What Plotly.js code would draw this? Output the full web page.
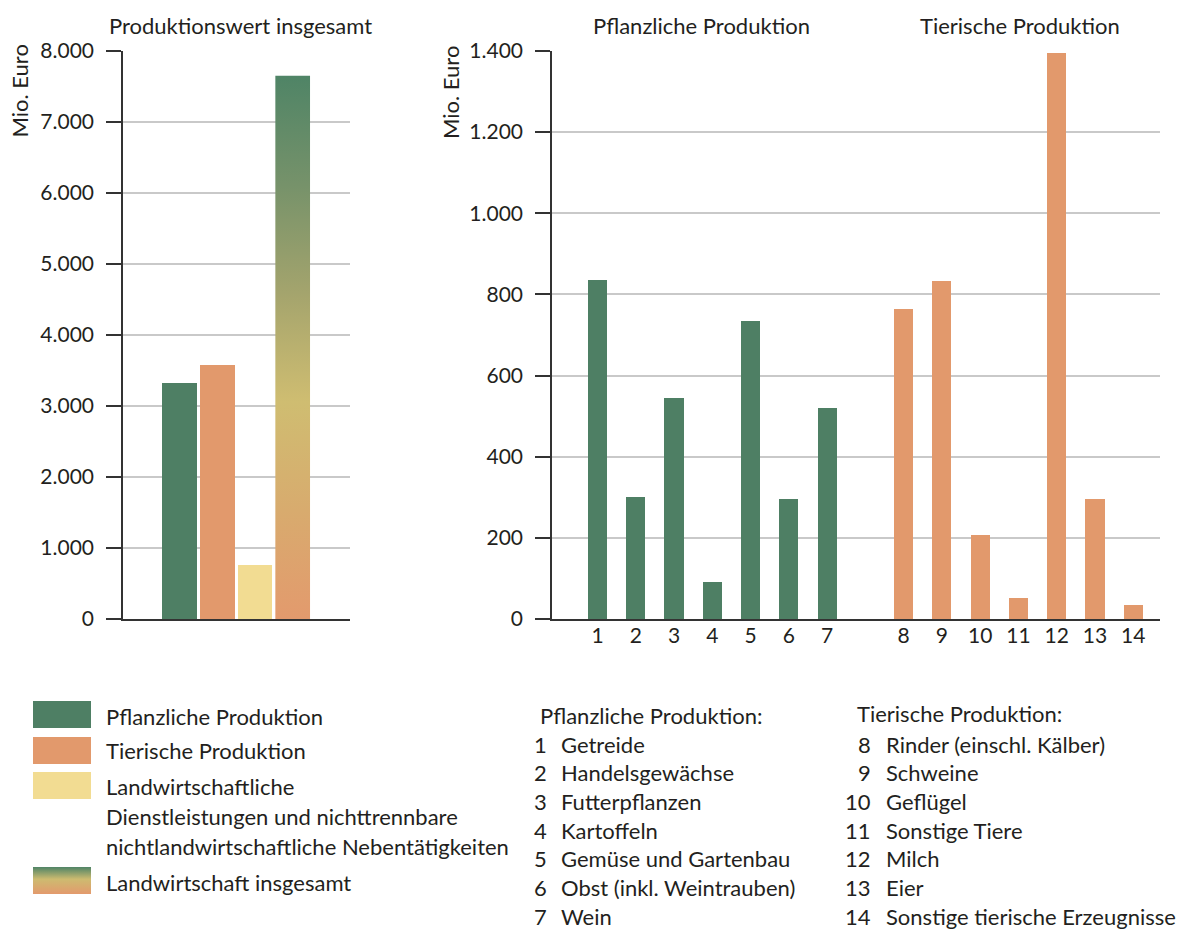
<!DOCTYPE html>
<html>
<head>
<meta charset="utf-8">
<script src="https://cdn.plot.ly/plotly-3.0.1.min.js"></script>
<style>
  html, body { margin: 0; padding: 0; background: #fff; }
  #chart { width: 1178px; height: 929px; }
</style>
</head>
<body>
<div id="chart"></div>
<script>
// ---------------- DATA ----------------
const totalCategories = [
  'Pflanzliche Produktion',
  'Tierische Produktion',
  'Landwirtschaftliche Dienstleistungen und nichttrennbare nichtlandwirtschaftliche Nebentätigkeiten',
  'Landwirtschaft insgesamt'
];
const totalValues = [3320, 3580, 760, 7650];

const plantLabels = ['1', '2', '3', '4', '5', '6', '7'];
const plantNames = ['Getreide', 'Handelsgewächse', 'Futterpflanzen', 'Kartoffeln',
  'Gemüse und Gartenbau', 'Obst (inkl. Weintrauben)', 'Wein'];
const plantValues = [835, 300, 545, 90, 735, 295, 520];

const animalLabels = ['8', '9', '10', '11', '12', '13', '14'];
const animalNames = ['Rinder (einschl. Kälber)', 'Schweine', 'Geflügel', 'Sonstige Tiere',
  'Milch', 'Eier', 'Sonstige tierische Erzeugnisse'];
const animalValues = [765, 832, 207, 52, 1395, 296, 35];

const leftTicks = [0, 1000, 2000, 3000, 4000, 5000, 6000, 7000, 8000];
const rightTicks = [0, 200, 400, 600, 800, 1000, 1200, 1400];

const leftTitle = 'Produktionswert insgesamt';
const plantTitle = 'Pflanzliche Produktion';
const animalTitle = 'Tierische Produktion';
const yTitle = 'Mio. Euro';

// ---------------- STYLE ----------------
const W = 1178, H = 929;
const GREEN = '#4e7f64', ORANGE = '#e2996c', YELLOW = '#f2dc92';
const FONT = 'Lato, "Open Sans", sans-serif';
const TXT = '#231f20';
const FS = 21;      // tick labels
const FA = 22;      // annotation texts
const px = x => x / W;
const py = y => 1 - y / H;

const fmt = v => v.toString().replace(/\B(?=(\d{3})+(?!\d))/g, '.');

// left bars (first three components)
const barW = 0.92;
const compIdx = totalValues.slice(0, 3).map((_, i) => i);
const leftBars = {
  type: 'bar', x: compIdx, y: totalValues.slice(0, 3),
  width: barW, marker: { color: [GREEN, ORANGE, YELLOW], line: { width: 0 } },
  text: totalCategories.slice(0, 3), textposition: 'none',
  hovertemplate: '%{text}: %{y}<extra></extra>',
  xaxis: 'x', yaxis: 'y', showlegend: false
};
// total bar with vertical gradient
const ti = 3, tv = totalValues[3];
const totalBar = {
  type: 'scatter', mode: 'lines',
  x: [ti - barW / 2, ti - barW / 2, ti + barW / 2, ti + barW / 2, ti - barW / 2],
  y: [0, tv, tv, 0, 0],
  fill: 'toself',
  line: { width: 0, color: 'rgba(0,0,0,0)' },
  fillgradient: {
    type: 'vertical',
    start: 0, stop: tv,
    colorscale: [[0, '#e39a6d'], [0.2, '#d8ab6e'], [0.4, '#cfbd71'], [0.6, '#a4a46d'], [0.8, '#76926a'], [1, '#4f8466']]
  },
  xaxis: 'x', yaxis: 'y', hoverinfo: 'skip', showlegend: false
};

const plantPos = plantLabels.map(Number);
const animalPos = animalLabels.map(l => Number(l) + 1);
const rbW = 0.5;
const plantBars = {
  type: 'bar', x: plantPos, y: plantValues, width: rbW, name: plantTitle,
  text: plantNames, hovertemplate: '%{text}: %{y}<extra></extra>', textposition: 'none',
  marker: { color: GREEN, line: { width: 0 } }, xaxis: 'x2', yaxis: 'y2', showlegend: false
};
const animalBars = {
  type: 'bar', x: animalPos, y: animalValues, width: rbW, name: animalTitle,
  text: animalNames, hovertemplate: '%{text}: %{y}<extra></extra>', textposition: 'none',
  marker: { color: ORANGE, line: { width: 0 } }, xaxis: 'x2', yaxis: 'y2', showlegend: false
};

// gradient swatch image for legend
function gradientURL() {
  const c = document.createElement('canvas');
  c.width = 58; c.height = 27;
  const g = c.getContext('2d');
  const gr = g.createLinearGradient(0, 0, 0, 27);
  gr.addColorStop(0, '#508466');
  gr.addColorStop(0.45, '#cdbb70');
  gr.addColorStop(1, '#e39a6d');
  g.fillStyle = gr; g.fillRect(0, 0, 58, 27);
  return c.toDataURL();
}

const GRID = '#c9c9c9', AX = '#333333';
const yBase = {
  showline: true, linecolor: AX, linewidth: 1.5,
  ticks: 'outside', ticklen: 15, tickcolor: AX, tickwidth: 1.5,
  showgrid: true, gridcolor: GRID, gridwidth: 1.5, zeroline: false,
  tickfont: { family: FONT, size: FS, color: TXT }, ticklabelstandoff: 8,
  fixedrange: true
};

const layout = {
  width: W, height: H,
  margin: { l: 0, r: 0, t: 0, b: 0 },
  paper_bgcolor: '#fff', plot_bgcolor: '#fff',
  bargap: 0, showlegend: false,
  font: { family: FONT, size: FS, color: TXT },
  xaxis: {
    domain: [px(123), px(350)], range: [-1.5, 4.52],
    showline: true, linecolor: AX, linewidth: 2, showticklabels: false,
    ticks: '', showgrid: false, zeroline: false, fixedrange: true
  },
  yaxis: Object.assign({}, yBase, {
    domain: [py(619), py(51)], range: [0, 8000],
    tickvals: leftTicks, ticktext: leftTicks.map(fmt), anchor: 'x'
  }),
  xaxis2: {
    domain: [px(552), px(1160)], range: [-0.19, 15.7],
    showline: true, linecolor: AX, linewidth: 2,
    tickvals: plantPos.concat(animalPos), ticktext: plantLabels.concat(animalLabels),
    ticks: '', showgrid: false, zeroline: false, anchor: 'y2',
    tickfont: { family: FONT, size: FS, color: TXT }, ticklabelstandoff: -3, fixedrange: true
  },
  yaxis2: Object.assign({}, yBase, {
    domain: [py(619), py(51)], range: [0, 1400],
    tickvals: rightTicks, ticktext: rightTicks.map(fmt), anchor: 'x2'
  }),
  shapes: [],
  annotations: [],
  images: []
};

const ann = (text, x, y, xanchor, extra) => Object.assign({
  text: text, x: px(x), y: py(y), xref: 'paper', yref: 'paper',
  xanchor: xanchor || 'left', yanchor: 'middle', showarrow: false, borderpad: 0,
  font: { family: FONT, size: FA, color: TXT }
}, extra || {});

// panel titles
layout.annotations.push(ann(leftTitle, 240, 25, 'center'));
layout.annotations.push(ann(plantTitle, 701, 25, 'center'));
layout.annotations.push(ann(animalTitle, 1020, 25, 'center'));
// y titles
layout.annotations.push(ann(yTitle, 19.5, 91, 'center', { textangle: -90 }));
layout.annotations.push(ann(yTitle, 450, 93, 'center', { textangle: -90 }));

// legend (left block)
const sw = [[GREEN, 701], [ORANGE, 737], [YELLOW, 772]];
sw.forEach(([c, y]) => layout.shapes.push({
  type: 'rect', xref: 'paper', yref: 'paper',
  x0: px(33), x1: px(91), y0: py(y + 27), y1: py(y),
  fillcolor: c, line: { width: 0 }
}));
layout.images.push({
  source: gradientURL(), xref: 'paper', yref: 'paper',
  x: px(33), y: py(867), sizex: 58 / W, sizey: 27 / H,
  sizing: 'stretch', xanchor: 'left', yanchor: 'top', layer: 'above'
});
const legLines = [
  [totalCategories[0], 716], [totalCategories[1], 750],
  ['Landwirtschaftliche', 786], ['Dienstleistungen und nichttrennbare', 816],
  ['nichtlandwirtschaftliche Nebentätigkeiten', 846], [totalCategories[3], 882]
];
legLines.forEach(([t, y]) => layout.annotations.push(ann(t, 105, y, 'left')));

// key lists
const rowY0 = 744, rowStep = 28.7;
layout.annotations.push(ann(plantTitle + ':', 539, 715, 'left'));
plantLabels.forEach((l, i) => {
  layout.annotations.push(ann(l, 548, rowY0 + i * rowStep, 'right'));
  layout.annotations.push(ann(plantNames[i], 560, rowY0 + i * rowStep, 'left'));
});
layout.annotations.push(ann(animalTitle + ':', 856, 713, 'left'));
animalLabels.forEach((l, i) => {
  layout.annotations.push(ann(l, 872, rowY0 + i * rowStep, 'right'));
  layout.annotations.push(ann(animalNames[i], 885, rowY0 + i * rowStep, 'left'));
});

Plotly.newPlot('chart', [leftBars, totalBar, plantBars, animalBars], layout,
  { displayModeBar: false, staticPlot: false });
</script>
</body>
</html>
